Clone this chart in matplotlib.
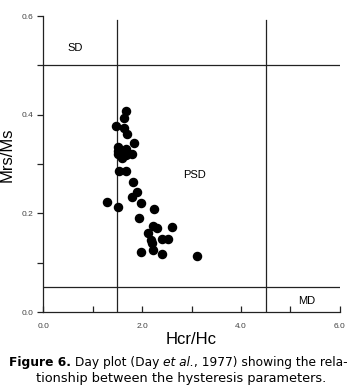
import matplotlib
matplotlib.use("Agg")
import matplotlib.pyplot as plt
from matplotlib.ticker import MultipleLocator, FixedLocator

# Day plot data
hcr_hc = [1.68, 1.64, 1.47, 1.64, 1.69, 1.84, 1.52, 1.68, 1.52, 1.59, 1.68, 1.79,
          1.52, 1.60, 1.54, 1.68, 1.82, 1.89, 1.80, 1.97, 1.29, 1.52, 2.25, 1.93,
          2.23, 2.30, 2.60, 2.13, 2.18, 2.40, 2.53, 2.20, 1.97, 2.23, 2.41, 3.11]
mrs_ms = [0.408, 0.393, 0.377, 0.373, 0.360, 0.343, 0.335, 0.330, 0.320, 0.316, 0.318, 0.320,
          0.327, 0.312, 0.285, 0.285, 0.264, 0.244, 0.233, 0.222, 0.223, 0.212, 0.208, 0.190,
          0.174, 0.171, 0.173, 0.161, 0.146, 0.149, 0.149, 0.139, 0.122, 0.126, 0.118, 0.114]

# domain boundaries (Day et al., 1977)
sd_mrs = 0.5
md_mrs = 0.05
sd_hcr = 1.5
md_hcr = 4.5

regions = ["SD", "PSD", "MD"]
region_x = [0.65, 3.07, 5.33]
region_y = [0.535, 0.278, 0.023]

plt.rcParams['font.family'] = ['Liberation Sans', 'DejaVu Sans']

fig = plt.figure(figsize=(3.56, 3.91), dpi=100)
ax = fig.add_axes([0.121, 0.202, 0.834, 0.757])

ax.plot([0, 6], [sd_mrs, sd_mrs], color='#222222', lw=0.9)
ax.plot([0, 6], [md_mrs, md_mrs], color='#222222', lw=0.9)
ax.plot([sd_hcr, sd_hcr], [0, 0.592], color='#222222', lw=0.9)
ax.plot([md_hcr, md_hcr], [0, 0.592], color='#222222', lw=0.9)

ax.scatter(hcr_hc, mrs_ms, s=34, color='black', zorder=3)

for name, x, y in zip(regions, region_x, region_y):
    ax.text(x, y, name, fontsize=8, ha='center', va='center')

ax.set_xlim(0, 6)
ax.set_ylim(0, 0.6)
for s in ['top', 'right']:
    ax.spines[s].set_visible(False)
for s in ['left', 'bottom']:
    ax.spines[s].set_linewidth(0.9)
    ax.spines[s].set_color('#222222')

ax.xaxis.set_major_locator(FixedLocator([0, 2, 4, 6]))
ax.xaxis.set_minor_locator(MultipleLocator(1))
ax.yaxis.set_major_locator(FixedLocator([0, 0.2, 0.4, 0.6]))
ax.yaxis.set_minor_locator(MultipleLocator(0.1))
ax.set_xticklabels(['0.0', '2.0', '4.0', '6.0'])
ax.set_yticklabels(['0.0', '0.2', '0.4', '0.6'])
ax.tick_params(axis='x', which='both', direction='in', length=4, width=0.9,
               labelsize=6, pad=8, colors='#222222', labelcolor='#444444')
ax.tick_params(axis='y', which='both', direction='out', length=4, width=0.9,
               labelsize=6, pad=3, colors='#222222', labelcolor='#444444')

ax.set_xlabel('Hcr/Hc', fontsize=12, labelpad=1)
ax.set_ylabel('Mrs/Ms', fontsize=12, labelpad=4)
ax.yaxis.set_label_coords(-0.095, 0.53)

# caption, first line built from pieces (bold / normal / italic)
pieces = [("Figure 6.", 'bold', 'normal'),
          (" Day plot (Day ", 'normal', 'normal'),
          ("et al.", 'normal', 'italic'),
          (", 1977) showing the rela-", 'normal', 'normal')]
renderer = fig.canvas.get_renderer()
texts = []
widths = []
for s, w, st in pieces:
    t = fig.text(0, 0.072, s, fontsize=8.8, fontweight=w, fontstyle=st,
                 family='DejaVu Sans', va='center', ha='left')
    texts.append(t)
    widths.append(t.get_window_extent(renderer).width)
figw = fig.get_figwidth() * fig.dpi
x0 = 0.5 * figw - 0.5 * sum(widths)
for t, w in zip(texts, widths):
    t.set_x(x0 / figw)
    x0 += w
fig.text(0.51, 0.031, "tionship between the hysteresis parameters.",
         ha='center', va='center', fontsize=9.3, family='DejaVu Sans')

fig.savefig("out.png", dpi=100)
